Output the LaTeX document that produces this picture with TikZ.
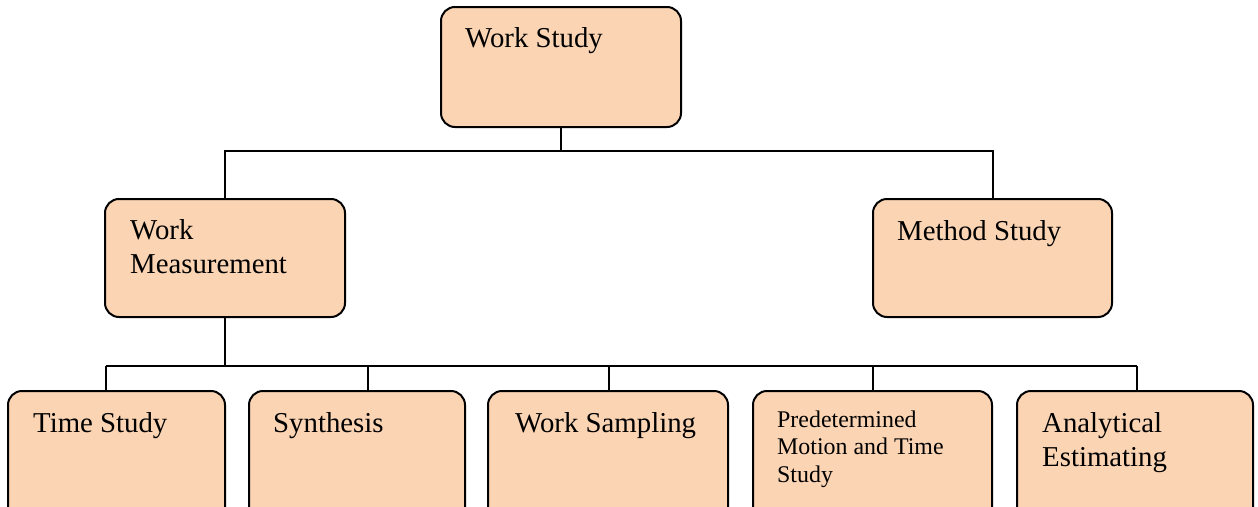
\documentclass[tikz,border=0pt]{standalone}
\usepackage{fontspec}
\setmainfont{Liberation Serif}
\usetikzlibrary{calc}
\definecolor{peach}{HTML}{FBD4B4}
\tikzset{
  box/.style={draw=black, line width=2pt, fill=peach, rounded corners=14pt,
    anchor=north west, inner sep=0pt, outer sep=0pt},
  big/.style={anchor=base west, inner sep=0pt, font=\fontsize{28.8}{34}\selectfont},
  small/.style={anchor=base west, inner sep=0pt, font=\fontsize{23.9}{27.5}\selectfont},
  wire/.style={draw=black, line width=2pt},
}
\begin{document}
\begin{tikzpicture}[x=1pt, y=-1pt]
\useasboundingbox (0,0) rectangle (1258,506);
\clip (0,0) rectangle (1258,506);

% top level
\node[box, minimum width=240pt, minimum height=120pt] (ws) at (441,7) {};
\node[big] (wsA) at (465,47) {Work Study};

% second level
\node[box, minimum width=240pt, minimum height=118pt] (wm) at (105,199) {};
\node[big] (wmA) at (130,239) {Work};
\node[big] (wmB) at (130,273) {Measurement};

\node[box, minimum width=239pt, minimum height=118pt] (ms) at (873,199) {};
\node[big] (msA) at (897,240) {Method Study};

% third level
\node[box, minimum width=217pt, minimum height=140pt] (ts) at (8,391) {};
\node[big] (tsA) at (33,432) {Time Study};

\node[box, minimum width=216pt, minimum height=140pt] (sy) at (249,391) {};
\node[big] (syA) at (273,432) {Synthesis};

\node[box, minimum width=240pt, minimum height=140pt] (sa) at (488,391) {};
\node[big] (saA) at (515,432) {Work Sampling};

\node[box, minimum width=239pt, minimum height=140pt] (pm) at (753,391) {};
\node[small] (pmA) at (777,427) {Predetermined};
\node[small] (pmB) at (777,454.5) {Motion and Time};
\node[small] (pmC) at (777,482) {Study};

\node[box, minimum width=236pt, minimum height=140pt] (ae) at (1017,391) {};
\node[big] (aeA) at (1042,432) {Analytical};
\node[big] (aeB) at (1042,466) {Estimating};

% connectors, upper tier
\coordinate (busA) at ($(ws.south)+(0,24)$);
\draw[wire] (ws.south) -- (busA);
\draw[wire] (wm.north) |- (busA) -| (ms.north);

% connectors, lower tier
\coordinate (busB) at ($(wm.south)+(0,49)$);
\coordinate (tapT) at (106,0 |- busB);
\coordinate (tapS) at (368,0 |- busB);
\coordinate (tapW) at (609,0 |- busB);
\coordinate (tapP) at (873,0 |- busB);
\coordinate (tapE) at (1137,0 |- busB);
\draw[wire] (wm.south) -- (busB);
\draw[wire] (tapT) -- (tapE);
\draw[wire] (tapT) -- (tapT |- ts.north);
\draw[wire] (tapS) -- (tapS |- sy.north);
\draw[wire] (tapW) -- (tapW |- sa.north);
\draw[wire] (tapP) -- (tapP |- pm.north);
\draw[wire] (tapE) -- (tapE |- ae.north);
\end{tikzpicture}
\end{document}
